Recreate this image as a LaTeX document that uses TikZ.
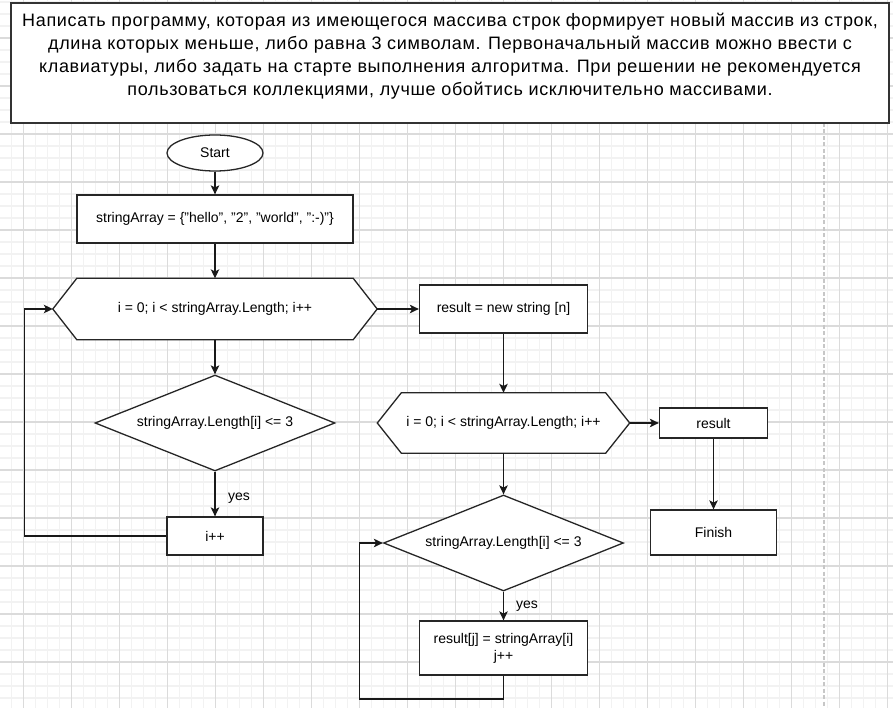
\documentclass[tikz,border=0pt]{standalone}
\usepackage{fontspec}
\setmainfont{Liberation Sans}
\newfontfamily\taskfont{Liberation Sans}[LetterSpace=3.6]
\usetikzlibrary{arrows.meta,shapes.geometric,calc}

\pgfdeclarelayer{paper}
\pgfdeclarelayer{outlines}
\pgfsetlayers{paper,outlines,main}

\begin{document}
\begin{tikzpicture}[x=1pt,y=-1pt,
  font=\fontsize{14}{17}\selectfont,
  wire/.style={line width=1.3pt, draw=black!90},
  arr/.style={wire, -{Stealth[length=9pt,width=8.5pt,inset=2.2pt]}},
  box/.style={rectangle, draw=black!85, line width=1.3pt, fill=white, inner sep=0pt},
  hexbox/.style={rectangle, inner sep=0pt},
  outline/.style={draw=black!85, line width=1.3pt, fill=white, line join=miter},
  decision/.style={diamond, draw=black!85, line width=1.3pt, fill=white, inner sep=0pt,
    aspect=2.5, minimum width=240pt, minimum height=96pt},
  terminal/.style={ellipse, draw=black!85, line width=1.3pt, fill=white, inner sep=0pt},
  minorgrid/.style={draw=black!5, line width=1.5pt},
  majorgrid/.style={draw=black!14, line width=1.1pt},
]
\useasboundingbox (0,0) rectangle (893,708);

% drawing paper: grid and page break
\begin{pgfonlayer}{paper}
  \fill[white] (0,0) rectangle (893,708);
  \foreach \i in {0,...,73} \draw[minorgrid] (11.5+12*\i,0) -- (11.5+12*\i,708);
  \foreach \i in {0,...,58} \draw[minorgrid] (0,2+12*\i) -- (893,2+12*\i);
  \foreach \i in {0,...,18} \draw[majorgrid] (23.5+48*\i,0) -- (23.5+48*\i,708);
  \foreach \i in {0,...,13} \draw[majorgrid] (0,38+48*\i) -- (893,38+48*\i);
  \draw[black!22, line width=2pt, dash pattern=on 4pt off 2.5pt] (824,123) -- (824,708);
\end{pgfonlayer}

% task statement
\node[rectangle, draw=black!80, line width=2pt, fill=white, minimum width=878pt, minimum height=120pt] (task) at (450,63) {};
\node[align=center, inner sep=0pt, font=\taskfont\fontsize{18}{23}\selectfont] (tasktext) at (450,55.7)
  {Написать программу, которая из имеющегося массива строк формирует новый массив из строк,\\
   длина которых меньше, либо равна 3 символам. Первоначальный массив можно ввести с\\
   клавиатуры, либо задать на старте выполнения алгоритма. При решении не рекомендуется\\
   пользоваться коллекциями, лучше обойтись исключительно массивами.};

% first column
\node[terminal, minimum width=96pt, minimum height=36pt] (start) at (215,153) {Start};
\node[box, minimum width=276pt, minimum height=48pt] (init) at (215,219)
  {stringArray = \{"hello", "2", "world", ":-)"\}};
\node[hexbox, minimum width=324pt, minimum height=61pt] (h1) at (215,309)
  {i = 0; i < stringArray.Length; i++};
\node[decision] (d1) at (215,423) {stringArray.Length[i] <= 3};
\node[box, minimum width=96pt, minimum height=38pt] (inc) at (215,536) {i++};
\node (yes1) at (239,498) {yes};

% second column
\node[box, minimum width=168pt, minimum height=48pt] (res) at (503.5,309) {result = new string [n]};
\node[hexbox, minimum width=252pt, minimum height=60pt] (h2) at (503.5,423)
  {i = 0; i < stringArray.Length; i++};
\node[decision] (d2) at (503.5,543) {stringArray.Length[i] <= 3};
\node[box, minimum width=168pt, minimum height=54pt, align=center] (assign) at (503.5,648)
  {result[j] = stringArray[i]\\j++};
\node (yes2) at (527,606) {yes};

% third column
\node[box, minimum width=108pt, minimum height=30pt] (out) at (713.5,423) {result};
\node[box, minimum width=126pt, minimum height=45pt] (fin) at (713.5,532.5) {Finish};

% loop hexagons, drawn under their labels
\begin{pgfonlayer}{outlines}
  \foreach \h in {h1,h2}
    \draw[outline] ($(\h.north west)+(24,0)$) -- ($(\h.north east)+(-24,0)$) -- (\h.east)
      -- ($(\h.south east)+(-24,0)$) -- ($(\h.south west)+(24,0)$) -- (\h.west) -- cycle;
\end{pgfonlayer}

% connectors
\coordinate (loopA) at (24.5,536);
\coordinate (loopB) at (359.5,699);
\draw[arr] (start) -- (init);
\draw[arr] (init) -- (h1);
\draw[arr] (h1.south) -- (d1.north);
\draw[arr] (d1.south) -- (inc.north);
\draw[arr] (inc.west) -- (loopA) |- (h1.west);
\draw[arr] (h1.east) -- (res.west);
\draw[arr] (res.south) -- (h2.north);
\draw[arr] (h2.east) -- (out.west);
\draw[arr] (out.south) -- (fin.north);
\draw[arr] (h2.south) -- (d2.north);
\draw[arr] (d2.south) -- (assign.north);
\draw[arr] (assign.south) |- (loopB) |- (d2.west);
\end{tikzpicture}
\end{document}
